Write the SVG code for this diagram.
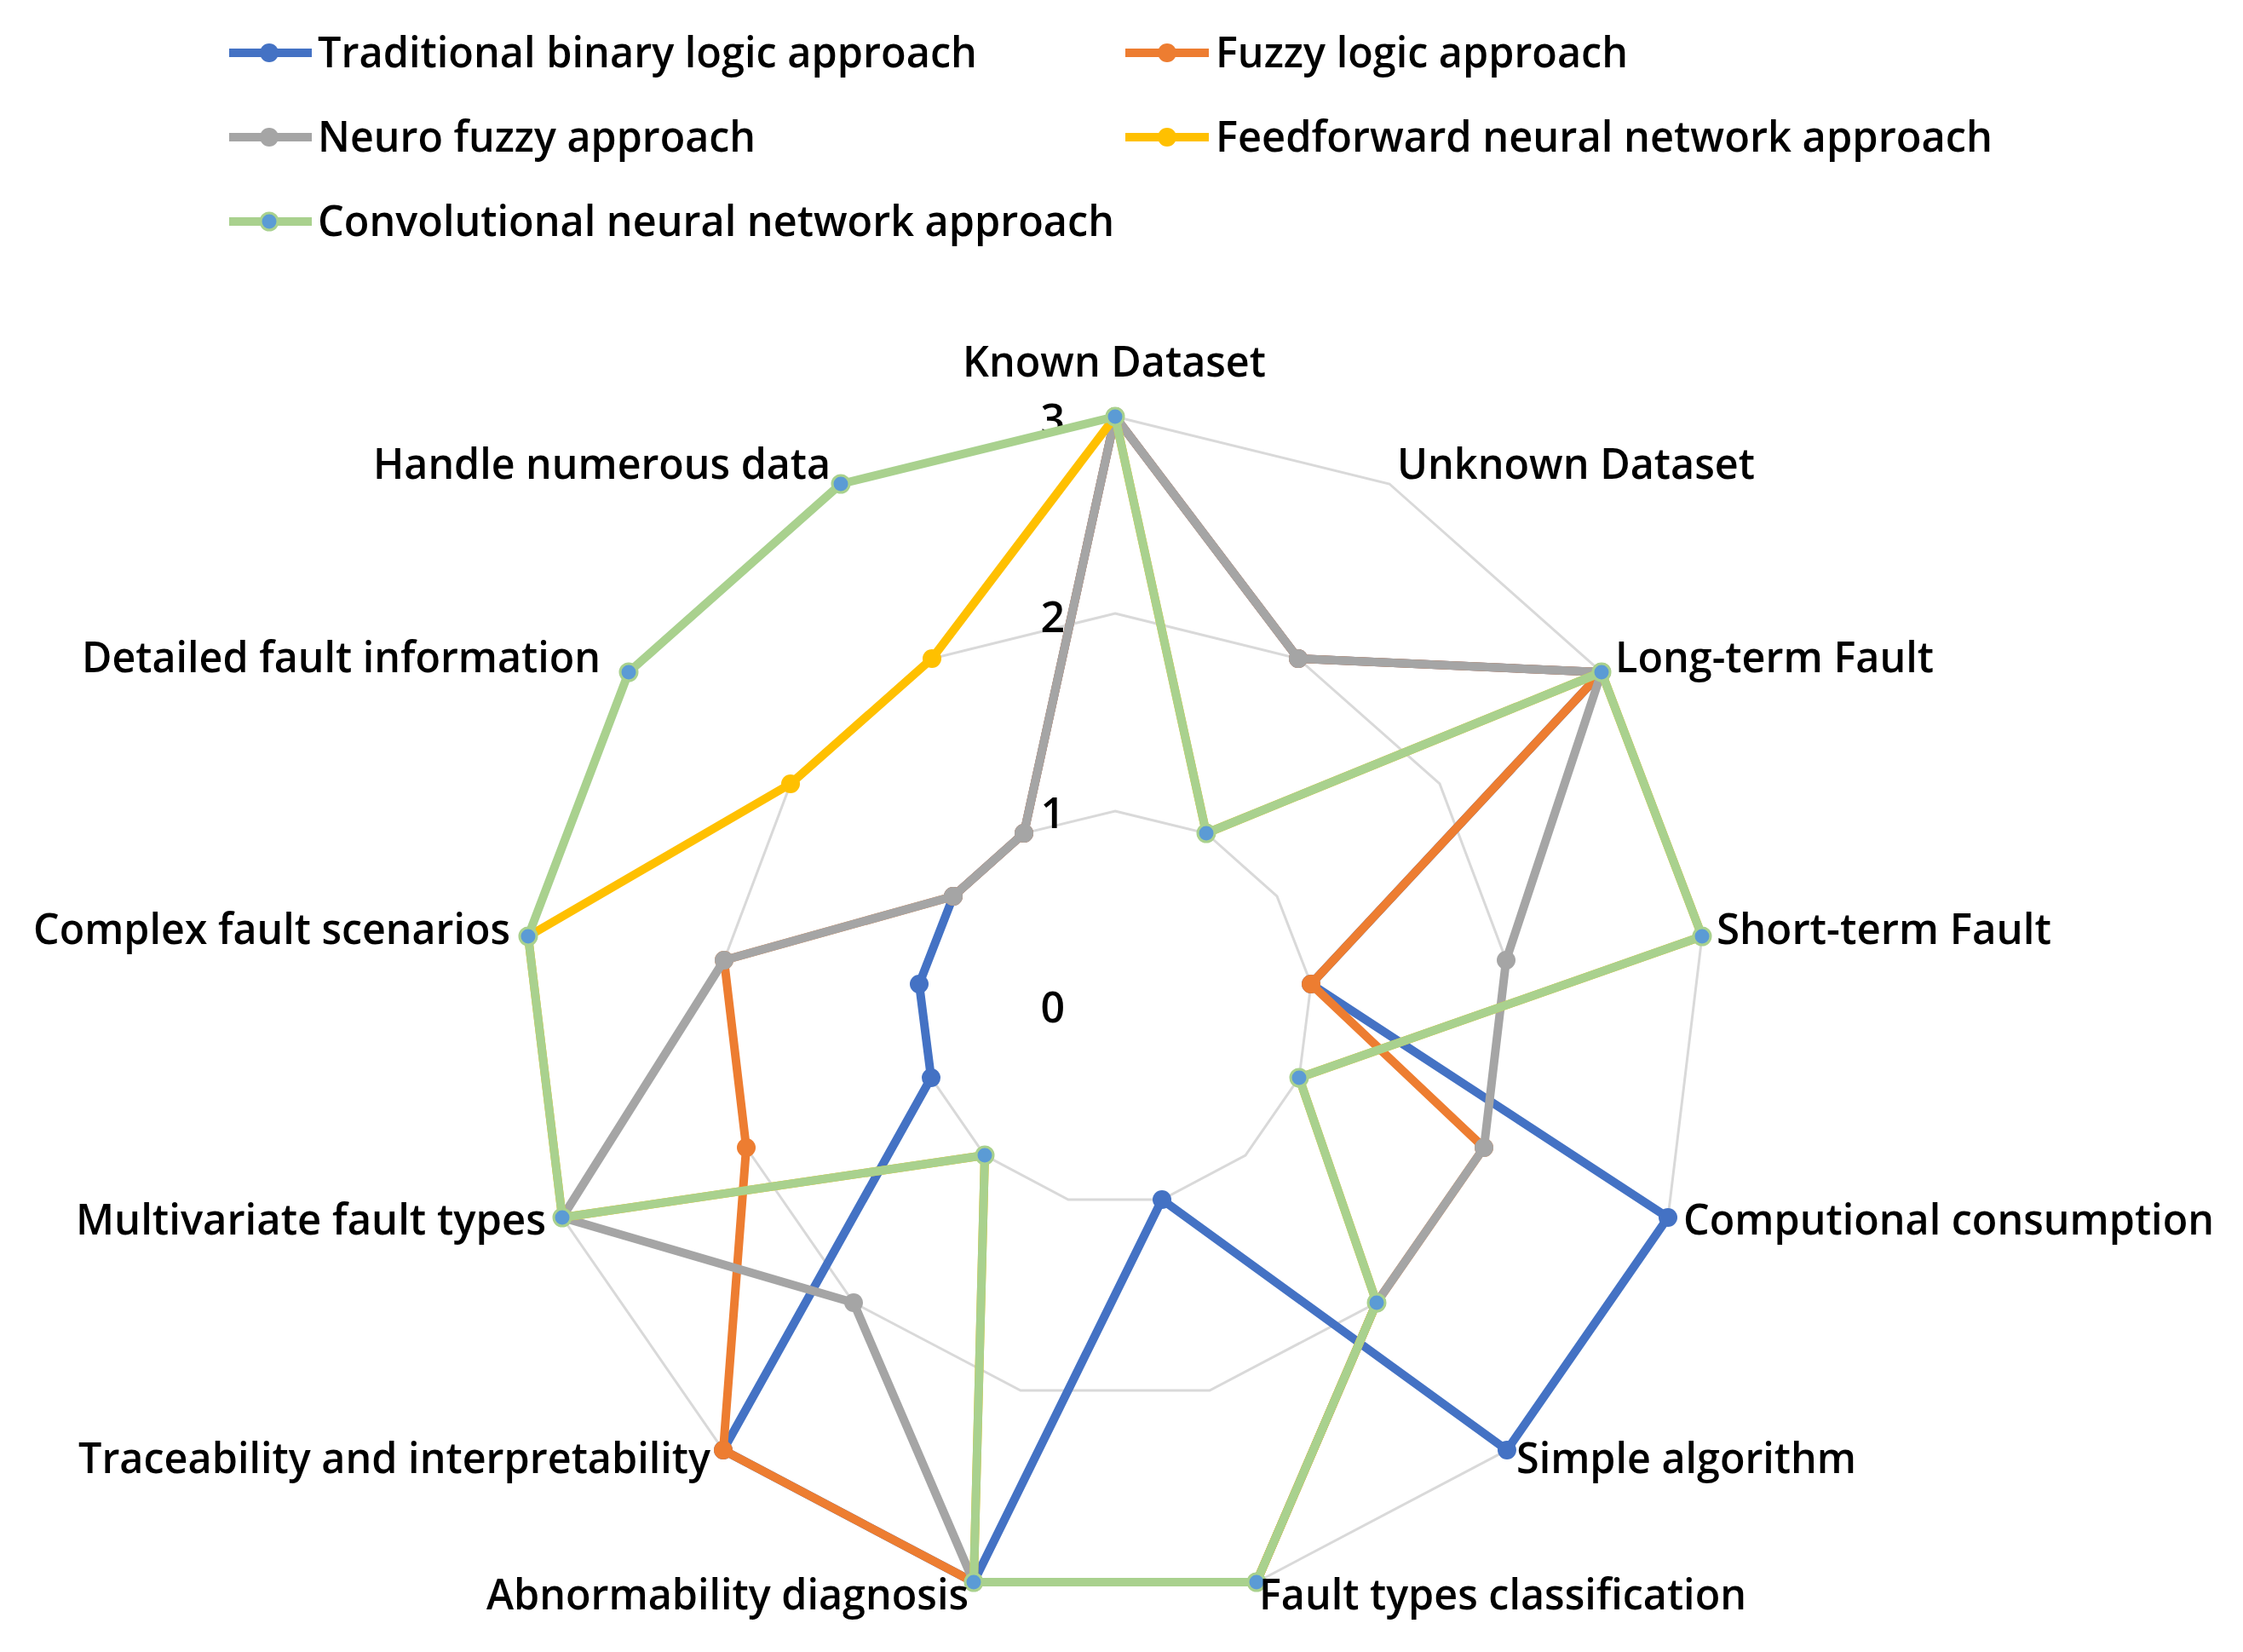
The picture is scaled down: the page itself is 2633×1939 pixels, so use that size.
<svg xmlns="http://www.w3.org/2000/svg" width="2633" height="1939" viewBox="0 0 2633 1939">
<style>
text{font-family:"Open Sans","Noto Sans","Liberation Sans",sans-serif;font-size:50px;fill:#000;font-weight:600}
.grid{fill:none;stroke:#D9D9D9;stroke-width:3}
.s{fill:none;stroke-width:10;stroke-linejoin:round}
</style>
<defs>
<marker id="mb" markerUnits="userSpaceOnUse" markerWidth="30" markerHeight="30" refX="15" refY="15"><circle cx="15" cy="15" r="11" fill="#4472C4"/></marker>
<marker id="mo" markerUnits="userSpaceOnUse" markerWidth="30" markerHeight="30" refX="15" refY="15"><circle cx="15" cy="15" r="11" fill="#ED7D31"/></marker>
<marker id="mg" markerUnits="userSpaceOnUse" markerWidth="30" markerHeight="30" refX="15" refY="15"><circle cx="15" cy="15" r="11" fill="#A5A5A5"/></marker>
<marker id="my" markerUnits="userSpaceOnUse" markerWidth="30" markerHeight="30" refX="15" refY="15"><circle cx="15" cy="15" r="11" fill="#FFC000"/></marker>
<marker id="mn" markerUnits="userSpaceOnUse" markerWidth="30" markerHeight="30" refX="15" refY="15"><circle cx="15" cy="15" r="10" fill="#5B9BD5" stroke="#A9D18E" stroke-width="3"/></marker>
</defs>
<rect width="2633" height="1939" fill="#fff"/>
<g id="grid">
<polygon class="grid" points="1309,489 1631,568 1880,789 1998,1099 1958,1429 1769,1702 1475,1857 1143,1857 849,1702 660,1429 620,1099 738,789 987,568"/>
<polygon class="grid" points="1309,720 1524,773 1690,920 1768,1127 1742,1347 1616,1529 1420,1632 1198,1632 1002,1529 876,1347 850,1127 928,920 1094,773"/>
<polygon class="grid" points="1309,952 1416,978 1499,1052 1539,1155 1525,1265 1462,1356 1364,1408 1254,1408 1156,1356 1093,1265 1079,1155 1119,1052 1202,978"/>
</g>
<g id="ticks">
<text x="1250" y="510" text-anchor="end">3</text><text x="1250" y="742" text-anchor="end">2</text><text x="1250" y="972" text-anchor="end">1</text><text x="1250" y="1200" text-anchor="end">0</text>
</g>
<g id="connectors">
<polygon id="blue" class="s" stroke="#4472C4" marker-start="url(#mb)" marker-mid="url(#mb)" points="1309,489 1524,773 1880,789 1539,1155 1958,1429 1769,1702 1364,1408 1143,1857 849,1702 1093,1265 1079,1155 1119,1052 1202,978"/>
<polygon id="orange" class="s" stroke="#ED7D31" marker-start="url(#mo)" marker-mid="url(#mo)" points="1309,489 1524,773 1880,789 1539,1155 1742,1347 1616,1529 1475,1857 1143,1857 849,1702 876,1347 850,1127 1119,1052 1202,978"/>
<polygon id="gray" class="s" stroke="#A5A5A5" marker-start="url(#mg)" marker-mid="url(#mg)" points="1309,489 1524,773 1880,789 1768,1127 1742,1347 1616,1529 1475,1857 1143,1857 1002,1529 660,1429 850,1127 1119,1052 1202,978"/>
<polygon id="yellow" class="s" stroke="#FFC000" marker-start="url(#my)" marker-mid="url(#my)" points="1309,489 1416,978 1880,789 1998,1099 1525,1265 1616,1529 1475,1857 1143,1857 1156,1356 660,1429 620,1099 928,920 1094,773"/>
<polygon id="green" class="s" stroke="#A9D18E" marker-start="url(#mn)" marker-mid="url(#mn)" points="1309,489 1416,978 1880,789 1998,1099 1525,1265 1616,1529 1475,1857 1143,1857 1156,1356 660,1429 620,1099 738,789 987,568"/>
</g>
<g id="labels">
<text x="1130" y="442" textLength="356" lengthAdjust="spacingAndGlyphs">Known Dataset</text>
<text x="1640" y="562" textLength="420" lengthAdjust="spacingAndGlyphs">Unknown Dataset</text>
<text x="1896" y="789" textLength="374" lengthAdjust="spacingAndGlyphs">Long-term Fault</text>
<text x="2015" y="1108" textLength="393" lengthAdjust="spacingAndGlyphs">Short-term Fault</text>
<text x="1976" y="1449" textLength="623" lengthAdjust="spacingAndGlyphs">Computional consumption</text>
<text x="1780" y="1729" textLength="399" lengthAdjust="spacingAndGlyphs">Simple algorithm</text>
<text x="1478" y="1889" textLength="572" lengthAdjust="spacingAndGlyphs">Fault types classification</text>
<text x="571" y="1889" textLength="566" lengthAdjust="spacingAndGlyphs">Abnormability diagnosis</text>
<text x="92" y="1729" textLength="742" lengthAdjust="spacingAndGlyphs">Traceability and interpretability</text>
<text x="89" y="1449" textLength="552" lengthAdjust="spacingAndGlyphs">Multivariate fault types</text>
<text x="39" y="1108" textLength="560" lengthAdjust="spacingAndGlyphs">Complex fault scenarios</text>
<text x="96" y="789" textLength="609" lengthAdjust="spacingAndGlyphs">Detailed fault information</text>
<text x="438" y="562" textLength="537" lengthAdjust="spacingAndGlyphs">Handle numerous data</text>
</g>
<g id="legend">
<line x1="269" y1="62" x2="366" y2="62" stroke="#4472C4" stroke-width="10"/><circle cx="316" cy="62" r="11" fill="#4472C4"/>
<text x="373" y="79" textLength="774" lengthAdjust="spacingAndGlyphs">Traditional binary logic approach</text>
<line x1="1321" y1="62" x2="1419" y2="62" stroke="#ED7D31" stroke-width="10"/><circle cx="1370" cy="62" r="11" fill="#ED7D31"/>
<text x="1427" y="79" textLength="484" lengthAdjust="spacingAndGlyphs">Fuzzy logic approach</text>
<line x1="269" y1="161" x2="366" y2="161" stroke="#A5A5A5" stroke-width="10"/><circle cx="316" cy="161" r="11" fill="#A5A5A5"/>
<text x="373" y="178" textLength="514" lengthAdjust="spacingAndGlyphs">Neuro fuzzy approach</text>
<line x1="1321" y1="161" x2="1419" y2="161" stroke="#FFC000" stroke-width="10"/><circle cx="1370" cy="161" r="11" fill="#FFC000"/>
<text x="1427" y="178" textLength="912" lengthAdjust="spacingAndGlyphs">Feedforward neural network approach</text>
<line x1="269" y1="260" x2="366" y2="260" stroke="#A9D18E" stroke-width="10"/><circle cx="316" cy="260" r="10" fill="#5B9BD5" stroke="#A9D18E" stroke-width="3"/>
<text x="373" y="277" textLength="935" lengthAdjust="spacingAndGlyphs">Convolutional neural network approach</text>
</g>
</svg>
